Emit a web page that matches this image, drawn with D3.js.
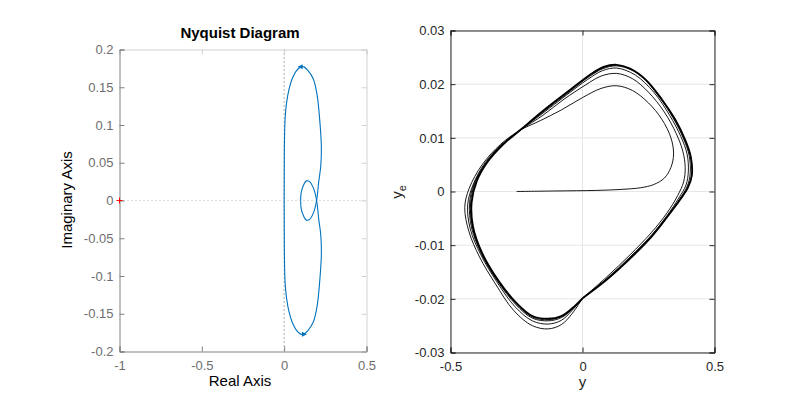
<!DOCTYPE html>
<html>
<head>
<meta charset="utf-8">
<script src="https://cdn.jsdelivr.net/npm/d3@7"></script>
<style>
  body { margin: 0; background: #fff; }
  svg text { font-family: "Liberation Sans", Arial, Helvetica, sans-serif; }
</style>
</head>
<body>
<div id="chart"></div>
<script>
// ---- datos: Nyquist (rama de frecuencia positiva, la negativa es su conjugada)
const nyqRe = [0.0, 0.0005, 0.002, 0.006, 0.015, 0.03, 0.05, 0.075, 0.1, 0.12, 0.145, 0.177, 0.2, 0.217, 0.226, 0.222, 0.21, 0.197, 0.18, 0.155, 0.135, 0.115, 0.103, 0.1];
const nyqIm = [0.0, 0.04, 0.08, 0.11, 0.13, 0.148, 0.162, 0.172, 0.177, 0.177, 0.172, 0.161, 0.14, 0.104, 0.07, 0.045, 0.025, 0.0, -0.015, -0.025, -0.026, -0.019, -0.01, 0.0];
const nyqXTicks = [-1, -0.5, 0, 0.5];
const nyqYTicks = [-0.2, -0.15, -0.1, -0.05, 0, 0.05, 0.1, 0.15, 0.2];

// ---- datos: plano de fase (y, y_e), vuelta por vuelta
const lapStart = [[-0.25, 0.0], [-0.1, 0.0001], [0.05, 0.0002], [0.15, 0.0004], [0.22, 0.0007], [0.27, 0.0013], [0.31, 0.0025], [0.335, 0.0045], [0.345, 0.007], [0.335, 0.01], [0.3, 0.0135], [0.25, 0.0165], [0.19, 0.0188], [0.13, 0.0197], [0.07, 0.0192], [0.0, 0.0175], [-0.08, 0.0152], [-0.16, 0.0132], [-0.237, 0.0114], [-0.31, 0.0088], [-0.38, 0.005], [-0.43, 0.0005], [-0.446, -0.003], [-0.43, -0.0075], [-0.39, -0.0122], [-0.33, -0.0172], [-0.26, -0.0222], [-0.19, -0.025], [-0.13, -0.0256], [-0.08, -0.0248], [-0.04, -0.0228], [0.0, -0.0199]];
const lap2 = [[0.0, -0.0199], [0.09, -0.016], [0.18, -0.0118], [0.26, -0.0077], [0.32, -0.004], [0.36, -0.0008], [0.383, 0.0018], [0.389, 0.0045], [0.38, 0.0075], [0.355, 0.0108], [0.31, 0.0148], [0.25, 0.0185], [0.19, 0.021], [0.13, 0.022], [0.07, 0.0215], [0.01, 0.0198], [-0.07, 0.0172], [-0.15, 0.0142], [-0.237, 0.0114], [-0.305, 0.0088], [-0.37, 0.0053], [-0.415, 0.0012], [-0.435, -0.0025], [-0.425, -0.007], [-0.385, -0.0118], [-0.325, -0.0168], [-0.255, -0.0215], [-0.19, -0.0241], [-0.13, -0.0247], [-0.08, -0.024], [-0.04, -0.0222], [0.0, -0.0199]];
const lap3 = [[0.0, -0.0199], [0.09, -0.0163], [0.18, -0.0122], [0.26, -0.0082], [0.32, -0.0045], [0.365, -0.0012], [0.392, 0.0012], [0.401, 0.0038], [0.396, 0.007], [0.373, 0.0102], [0.33, 0.0142], [0.27, 0.0185], [0.2, 0.0217], [0.13, 0.023], [0.075, 0.0225], [0.02, 0.0209], [-0.06, 0.018], [-0.15, 0.0146], [-0.237, 0.0114], [-0.303, 0.0088], [-0.365, 0.0054], [-0.41, 0.0015], [-0.428, -0.0022], [-0.42, -0.0068], [-0.382, -0.0117], [-0.322, -0.0167], [-0.252, -0.0211], [-0.19, -0.0236], [-0.13, -0.0241], [-0.08, -0.0235], [-0.04, -0.022], [0.0, -0.0199]];
const lap4 = [[0.0, -0.0199], [0.09, -0.0164], [0.18, -0.0124], [0.26, -0.0084], [0.32, -0.0047], [0.368, -0.0014], [0.397, 0.001], [0.408, 0.0034], [0.404, 0.0067], [0.383, 0.0098], [0.342, 0.0138], [0.285, 0.018], [0.21, 0.022], [0.13, 0.0234], [0.078, 0.0229], [0.025, 0.0214], [-0.055, 0.0184], [-0.15, 0.0148], [-0.237, 0.0114], [-0.302, 0.0088], [-0.362, 0.0055], [-0.405, 0.0018], [-0.424, -0.0021], [-0.417, -0.0066], [-0.381, -0.0116], [-0.321, -0.0166], [-0.251, -0.0209], [-0.19, -0.0234], [-0.13, -0.0239], [-0.08, -0.0233], [-0.04, -0.0219], [0.0, -0.0199]];
const limitCycle = [[0.0, -0.0199], [0.09, -0.0165], [0.18, -0.0125], [0.26, -0.0085], [0.32, -0.0048], [0.37, -0.0015], [0.4, 0.0008], [0.414, 0.003], [0.41, 0.0065], [0.39, 0.0095], [0.35, 0.0135], [0.3, 0.0172], [0.24, 0.0208], [0.18, 0.0229], [0.13, 0.0236], [0.08, 0.0232], [0.03, 0.0218], [-0.05, 0.0188], [-0.15, 0.015], [-0.237, 0.0114], [-0.3, 0.0088], [-0.36, 0.0055], [-0.4, 0.002], [-0.42, -0.002], [-0.415, -0.0065], [-0.38, -0.0115], [-0.32, -0.0165], [-0.25, -0.0208], [-0.19, -0.0232], [-0.13, -0.0237], [-0.08, -0.0232], [-0.04, -0.0218], [0.0, -0.0199]];
const phaseXTicks = [-0.5, 0, 0.5];
const phaseYTicks = [-0.03, -0.02, -0.01, 0, 0.01, 0.02, 0.03];

const W = 789, H = 395;
const svg = d3.select("#chart").append("svg")
    .attr("width", W)
    .attr("height", H);

drawNyquist();
drawPhase();

function drawNyquist(){
    const x = d3.scaleLinear().domain([-1, 0.5]).range([119.5, 366.5]);
    const y = d3.scaleLinear().domain([-0.2, 0.2]).range([351.5, 49.5]);
    const g = svg.append("g");

    // lineas de referencia punteadas
    g.append("line")
        .attr("x1", x(-1)).attr("x2", x(0.5))
        .attr("y1", y(0)).attr("y2", y(0))
        .attr("stroke", "#c0c0c0").attr("stroke-width", 1)
        .attr("stroke-dasharray", "1,3");
    g.append("line")
        .attr("x1", x(0)).attr("x2", x(0))
        .attr("y1", y(0.2)).attr("y2", y(-0.2))
        .attr("stroke", "#666").attr("stroke-width", 1)
        .attr("stroke-dasharray", "1,3");

    // ejes arriba/derecha (claros)
    g.append("g")
        .attr("transform", `translate(0, ${y(0.2)})`)
        .call(d3.axisTop(x).tickValues(nyqXTicks).tickSize(-5).tickFormat(""))
        .call(s => s.selectAll("path, line").attr("stroke", "#d2d2d2"));
    g.append("g")
        .attr("transform", `translate(${x(0.5)}, 0)`)
        .call(d3.axisRight(y).tickValues(nyqYTicks).tickSize(-5).tickFormat(""))
        .call(s => s.selectAll("path, line").attr("stroke", "#d2d2d2"));

    // ejes abajo/izquierda
    const xa = g.append("g")
        .attr("transform", `translate(0, ${y(-0.2)})`)
        .call(d3.axisBottom(x).tickValues(nyqXTicks).tickSize(-5).tickPadding(9).tickFormat(d => String(d)));
    const ya = g.append("g")
        .attr("transform", `translate(${x(-1)}, 0)`)
        .call(d3.axisLeft(y).tickValues(nyqYTicks).tickSize(-5).tickPadding(6).tickFormat(d => String(d)));
    [xa, ya].forEach(a => {
        a.selectAll("path, line").attr("stroke", "#808080");
        a.selectAll("text").attr("fill", "#6e6e6e").style("font-size", "13px");
    });

    // curva de Nyquist
    const pos = nyqRe.map((r, i) => [r, nyqIm[i]]);
    const neg = pos.slice().reverse().map(p => [p[0], -p[1]]);
    const line = d3.line().x(d => x(d[0])).y(d => y(d[1])).curve(d3.curveCatmullRom);
    g.append("path")
        .attr("d", line(pos))
        .attr("fill", "none").attr("stroke", "#0072BD").attr("stroke-width", 1.1);
    g.append("path")
        .attr("d", line(neg))
        .attr("fill", "none").attr("stroke", "#0072BD").attr("stroke-width", 1.1);

    // flechas
    const arrows = [[pos[8], 0], [neg[neg.length - 10], 180]];
    arrows.forEach(([p, rot]) => {
        g.append("path")
            .attr("d", "M-3,0 L2,-2.5 L2,2.5 Z")
            .attr("transform", `translate(${x(p[0])}, ${y(p[1])}) rotate(${rot})`)
            .attr("fill", "#0072BD");
    });

    // punto critico -1
    g.append("path")
        .attr("d", d3.symbol(d3.symbolCross, 0).size(0)())
        .attr("transform", `translate(${x(-1)}, ${y(0)})`);
    g.append("line").attr("x1", x(-1) - 3).attr("x2", x(-1) + 3)
        .attr("y1", y(0)).attr("y2", y(0)).attr("stroke", "red");
    g.append("line").attr("x1", x(-1)).attr("x2", x(-1))
        .attr("y1", y(0) - 3).attr("y2", y(0) + 3).attr("stroke", "red");

    // textos
    g.append("text")
        .attr("x", 240).attr("y", 38)
        .attr("text-anchor", "middle")
        .style("font-size", "15px").style("font-weight", "bold")
        .attr("fill", "#000")
        .text("Nyquist Diagram");
    g.append("text")
        .attr("x", 240).attr("y", 386)
        .attr("text-anchor", "middle")
        .style("font-size", "15px")
        .attr("fill", "#000")
        .text("Real Axis");
    g.append("text")
        .attr("transform", `translate(72, 200) rotate(-90)`)
        .attr("text-anchor", "middle")
        .style("font-size", "15px")
        .attr("fill", "#000")
        .text("Imaginary Axis");
}

function drawPhase(){
    const x = d3.scaleLinear().domain([-0.5, 0.5]).range([450.5, 714.5]);
    const y = d3.scaleLinear().domain([-0.03, 0.03]).range([352.5, 30.5]);
    const g = svg.append("g");

    // grilla
    g.append("g").selectAll("line.gx").data(phaseXTicks).join("line")
        .attr("x1", d => x(d)).attr("x2", d => x(d))
        .attr("y1", y(0.03)).attr("y2", y(-0.03))
        .attr("stroke", "#e6e6e6");
    g.append("g").selectAll("line.gy").data(phaseYTicks).join("line")
        .attr("x1", x(-0.5)).attr("x2", x(0.5))
        .attr("y1", d => y(d)).attr("y2", d => y(d))
        .attr("stroke", "#e6e6e6");

    // trayectoria
    const line = d3.line().x(d => x(d[0])).y(d => y(d[1])).curve(d3.curveCatmullRom);
    [lapStart, lap2, lap3, lap4].forEach(lap => {
        g.append("path")
            .attr("d", line(lap))
            .attr("fill", "none").attr("stroke", "#000").attr("stroke-width", 0.9);
    });
    g.append("path")
        .attr("d", line(limitCycle))
        .attr("fill", "none").attr("stroke", "#000").attr("stroke-width", 1.9);

    // ejes
    const axes = [
        g.append("g").attr("transform", `translate(0, ${y(-0.03)})`)
            .call(d3.axisBottom(x).tickValues(phaseXTicks).tickSize(-5).tickPadding(9).tickFormat(d => String(d))),
        g.append("g").attr("transform", `translate(${x(-0.5)}, 0)`)
            .call(d3.axisLeft(y).tickValues(phaseYTicks).tickSize(-5).tickPadding(6).tickFormat(d => String(d))),
        g.append("g").attr("transform", `translate(0, ${y(0.03)})`)
            .call(d3.axisTop(x).tickValues(phaseXTicks).tickSize(-5).tickFormat("")),
        g.append("g").attr("transform", `translate(${x(0.5)}, 0)`)
            .call(d3.axisRight(y).tickValues(phaseYTicks).tickSize(-5).tickFormat(""))
    ];
    axes.forEach(a => {
        a.selectAll("path, line").attr("stroke", "#262626");
        a.selectAll("text").attr("fill", "#262626").style("font-size", "13px");
    });

    g.append("text")
        .attr("x", x(0)).attr("y", 387)
        .attr("text-anchor", "middle")
        .style("font-size", "15px").attr("fill", "#262626")
        .text("y");
    const yl = g.append("text")
        .attr("transform", `translate(402, 192) rotate(-90)`)
        .attr("text-anchor", "middle")
        .style("font-size", "15px").attr("fill", "#262626");
    yl.append("tspan").text("y");
    yl.append("tspan").attr("dy", 4).style("font-size", "11px").text("e");
}
</script>
</body>
</html>
